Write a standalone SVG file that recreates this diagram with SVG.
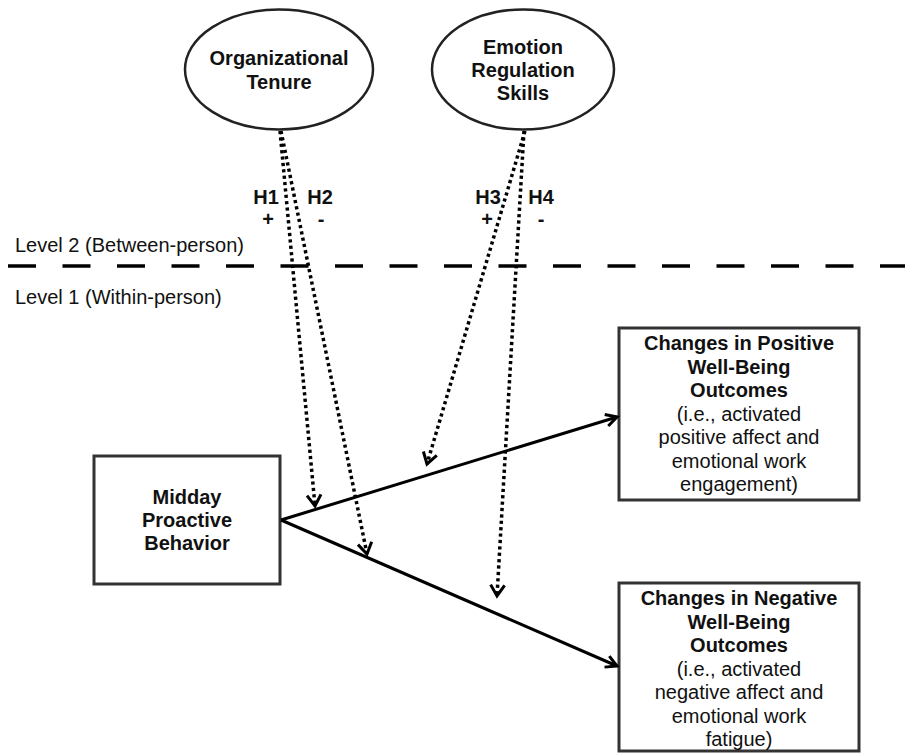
<svg xmlns="http://www.w3.org/2000/svg" width="905" height="754" viewBox="0 0 905 754">
<style>
.b{font-family:"Liberation Sans",Arial,sans-serif;font-size:20px;font-weight:bold;fill:#111;text-anchor:middle}
.r{font-family:"Liberation Sans",Arial,sans-serif;font-size:20px;fill:#111;text-anchor:middle}
.l{font-family:"Liberation Sans",Arial,sans-serif;font-size:20px;fill:#111}
.node{fill:#fff;stroke:#333;stroke-width:3}
.ell{fill:#fff;stroke:#222;stroke-width:2.5}
.solid{fill:none;stroke:#000;stroke-width:3;marker-end:url(#ah)}
.dot{fill:none;stroke:#000;stroke-width:3.5;stroke-dasharray:3.2 3.2;marker-end:url(#ahd)}
</style>
<defs>
<marker id="ah" markerUnits="userSpaceOnUse" markerWidth="16" markerHeight="16" refX="13" refY="8" orient="auto">
<path d="M2,2 L13,8 L2,14" fill="none" stroke="#000" stroke-width="3" stroke-dasharray="none"/>
</marker>
<marker id="ahd" markerUnits="userSpaceOnUse" markerWidth="16" markerHeight="18" refX="13" refY="9" orient="auto">
<path d="M2,2 L13,9 L2,16" fill="none" stroke="#000" stroke-width="3" stroke-dasharray="none"/>
</marker>
</defs>
<rect width="905" height="754" fill="#fff"/>

<g id="levels">
<line x1="8" y1="266" x2="905" y2="266" stroke="#000" stroke-width="3.5" stroke-dasharray="28 26.5"/>
<text class="l" x="15" y="252">Level 2 (Between-person)</text>
<text class="l" x="15" y="304">Level 1 (Within-person)</text>
</g>

<g id="tenure">
<ellipse class="ell" cx="279" cy="69.5" rx="94" ry="60"/>
<text class="b" x="279" y="65">Organizational</text>
<text class="b" x="279" y="89">Tenure</text>
</g>

<g id="emotion">
<ellipse class="ell" cx="523" cy="69.5" rx="91" ry="60"/>
<text class="b" x="523" y="54">Emotion</text>
<text class="b" x="523" y="77">Regulation</text>
<text class="b" x="523" y="100">Skills</text>
</g>

<g id="midday">
<rect class="node" x="94" y="456" width="186" height="128"/>
<text class="b" x="187" y="504">Midday</text>
<text class="b" x="187" y="527">Proactive</text>
<text class="b" x="187" y="550">Behavior</text>
</g>

<g id="positive">
<rect class="node" x="619" y="328" width="240" height="172"/>
<text class="b" x="739" y="350">Changes in Positive</text>
<text class="b" x="739" y="373.5">Well-Being</text>
<text class="b" x="739" y="397">Outcomes</text>
<text class="r" x="739" y="420.5">(i.e., activated</text>
<text class="r" x="739" y="444">positive affect and</text>
<text class="r" x="739" y="467.5">emotional work</text>
<text class="r" x="739" y="491">engagement)</text>
</g>

<g id="negative">
<rect class="node" x="619" y="583" width="240" height="168"/>
<text class="b" x="739" y="605">Changes in Negative</text>
<text class="b" x="739" y="628.5">Well-Being</text>
<text class="b" x="739" y="652">Outcomes</text>
<text class="r" x="739" y="675.5">(i.e., activated</text>
<text class="r" x="739" y="699">negative affect and</text>
<text class="r" x="739" y="722.5">emotional work</text>
<text class="r" x="739" y="746">fatigue)</text>
</g>

<g id="connectors">
<line class="solid" x1="281" y1="520" x2="617" y2="417"/>
<line class="solid" x1="281" y1="520" x2="617" y2="666"/>
<line class="dot" x1="280" y1="131" x2="315" y2="506"/>
<line class="dot" x1="281" y1="131" x2="367" y2="554"/>
<line class="dot" x1="525" y1="131" x2="427" y2="464"/>
<line class="dot" x1="524" y1="131" x2="497" y2="596"/>
</g>

<g id="labels">
<text class="b" x="266" y="204">H1</text>
<text class="b" x="268" y="226">+</text>
<text class="b" x="320" y="204">H2</text>
<text class="b" x="321" y="226">-</text>
<text class="b" x="488" y="204">H3</text>
<text class="b" x="487" y="226">+</text>
<text class="b" x="541" y="204">H4</text>
<text class="b" x="541" y="226">-</text>
</g>
</svg>
